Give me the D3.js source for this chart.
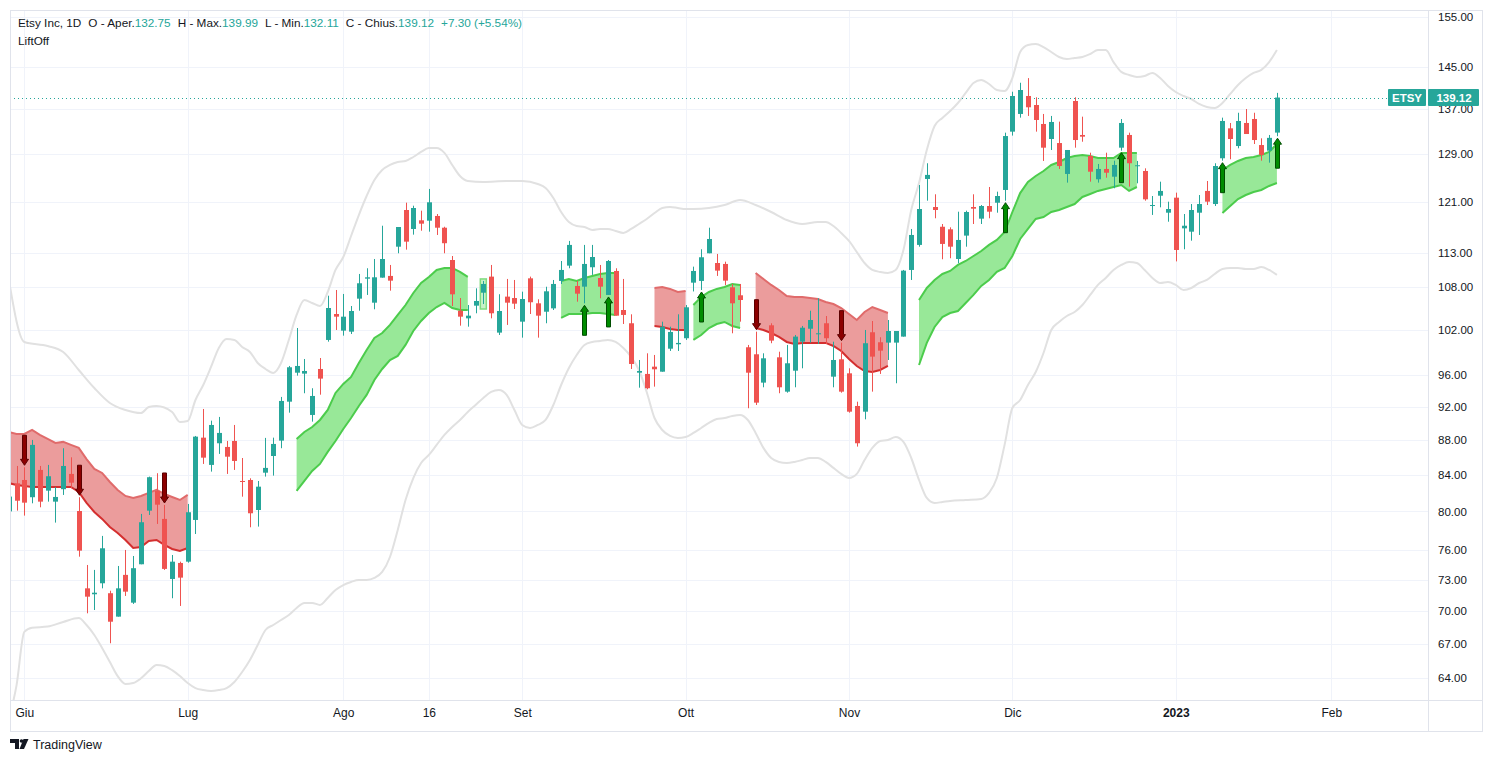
<!DOCTYPE html>
<html><head><meta charset="utf-8">
<script src="https://cdn.jsdelivr.net/npm/d3@7"></script>
<style>
html,body{margin:0;padding:0;background:#fff;}
svg{display:block;font-family:"Liberation Sans",Arial,sans-serif;}
</style></head><body>
<svg id="chart" width="1493" height="762"></svg>
<script>
// ---------- DATA ----------
const firstBar = -2; // bar index of first candle (0 = 1 Jun 2022)
const opens = [80.00,83.06,83.43,81.53,84.56,82.25,81.05,82.41,84.11,80.04,72.18,71.61,72.67,71.71,69.50,73.49,70.81,74.54,80.08,82.22,79.20,73.09,74.67,74.80,79.09,88.29,85.13,87.63,87.20,87.90,83.32,83.43,80.15,84.25,86.15,87.94,92.64,96.30,96.18,91.01,96.78,100.61,104.16,101.87,101.73,106.32,109.20,105.75,109.35,109.60,113.97,119.70,116.70,118.06,118.00,118.75,116.90,111.96,104.62,103.56,105.33,107.17,109.50,101.60,106.61,106.41,103.10,109.25,105.66,104.48,104.95,108.87,111.12,108.14,108.04,110.88,109.30,106.85,110.33,104.72,102.88,96.30,96.14,97.08,96.43,99.44,100.03,100.84,108.62,108.87,112.97,111.51,111.37,107.95,106.80,99.63,98.70,95.03,102.60,98.30,93.89,96.56,100.38,102.13,101.41,102.88,95.79,98.04,96.22,92.11,91.41,101.65,100.30,100.25,100.25,101.06,110.48,114.24,124.77,120.18,117.05,116.65,112.11,115.67,120.18,118.32,120.34,120.87,122.95,132.92,136.10,139.41,137.74,134.29,131.62,130.91,125.61,138.48,132.33,128.67,124.72,126.45,125.15,130.10,132.33,126.91,126.11,120.39,122.01,119.27,121.69,116.80,116.28,119.27,122.79,120.66,128.27,133.51,130.39,134.47,135.19,130.56,129.58,132.75];
const highs = [82.10,85.01,84.86,88.02,85.01,85.13,82.63,87.05,86.00,81.53,74.47,73.98,77.42,71.95,74.37,75.98,75.37,79.73,83.81,84.19,80.69,75.47,74.80,80.80,88.49,91.74,90.32,90.77,87.90,89.80,85.92,83.62,83.32,88.26,88.29,93.23,97.17,102.23,98.08,94.32,98.21,106.74,107.56,106.99,105.28,109.89,110.73,112.11,117.21,111.22,117.01,120.88,120.39,119.59,123.12,119.06,117.05,112.56,106.41,105.42,107.80,108.87,111.22,106.95,109.16,109.01,107.32,109.50,106.23,108.03,109.01,111.81,114.85,108.87,114.24,114.24,111.22,111.96,110.73,109.16,104.12,97.95,98.83,98.61,103.10,102.41,104.12,105.42,110.97,113.58,116.90,112.87,111.71,108.43,108.43,99.94,101.73,98.83,102.88,99.04,99.94,101.28,102.51,104.62,106.37,103.88,100.38,100.25,96.87,92.64,101.96,103.19,100.97,103.33,101.82,110.48,116.70,123.77,127.42,122.24,117.48,116.96,119.43,119.59,122.24,120.50,123.44,122.67,132.74,140.21,141.90,142.78,139.17,136.10,135.74,134.71,129.70,139.17,135.61,129.23,127.30,129.23,127.86,135.18,132.74,127.81,126.56,121.96,124.32,121.04,122.51,119.06,120.66,122.12,124.43,127.42,135.43,134.47,136.32,137.00,136.32,131.74,132.33,139.99];
const lows = [79.10,80.08,79.55,80.87,80.44,81.05,78.81,81.78,82.52,75.30,69.81,70.12,72.18,67.07,69.50,71.45,70.69,74.54,79.62,78.67,73.98,71.23,70.50,74.70,77.62,85.24,84.37,86.39,84.11,84.56,81.59,78.32,78.39,83.81,83.92,87.05,91.29,95.92,93.69,90.20,93.51,100.38,101.96,101.19,101.41,104.62,106.85,104.82,109.35,107.46,112.97,113.52,115.82,116.43,116.28,115.77,112.97,105.28,102.55,102.41,104.26,105.56,103.56,101.28,102.65,104.86,100.92,104.16,100.92,102.88,104.72,108.43,110.73,105.89,105.66,109.75,106.37,106.85,103.93,102.78,96.78,94.39,94.19,94.52,96.43,99.14,99.14,100.61,107.35,107.56,112.97,109.60,108.28,101.51,103.10,91.83,92.23,94.44,100.17,93.69,93.76,94.44,96.87,100.25,100.07,100.07,94.44,93.76,91.29,87.24,90.48,93.89,96.14,97.95,94.95,101.06,109.01,113.97,121.20,118.38,112.07,112.22,111.47,113.97,117.48,117.48,118.38,119.27,121.20,132.22,135.43,135.74,132.92,127.81,129.70,126.45,124.16,130.10,131.14,124.32,124.16,124.98,123.23,129.58,123.50,124.05,121.20,118.91,120.13,117.84,111.75,113.58,114.89,115.77,120.50,120.34,127.86,128.10,129.99,132.50,130.74,127.86,127.52,132.11];
const closes = [81.60,81.15,80.94,87.44,81.05,83.85,81.56,85.01,83.13,75.91,71.38,71.76,76.15,69.03,72.18,71.86,74.15,78.85,83.74,80.72,74.08,74.80,73.22,79.91,88.41,85.96,89.80,88.85,86.07,85.58,83.21,79.80,82.69,84.79,87.55,92.73,97.00,97.17,96.52,93.35,95.54,105.00,103.79,103.79,104.58,108.53,109.40,109.40,112.11,108.91,117.01,114.74,120.02,117.53,120.94,116.90,114.50,106.94,103.79,103.93,105.99,108.43,104.26,104.58,105.75,105.61,106.27,105.81,103.93,107.37,108.43,110.48,114.24,107.03,111.37,112.41,108.04,111.81,103.93,104.03,97.43,96.52,94.32,96.74,102.41,101.69,100.21,105.10,110.33,112.37,115.15,110.38,108.91,105.66,106.13,96.30,92.52,98.17,100.52,94.44,97.52,101.06,102.27,103.33,101.51,100.84,97.95,93.89,91.41,87.63,100.17,98.39,99.18,101.82,101.82,110.38,115.77,119.86,125.45,119.70,114.39,113.97,115.00,119.38,119.91,120.34,119.43,121.96,132.14,139.41,140.53,137.32,135.01,130.10,134.65,126.95,129.70,131.44,132.03,125.99,126.45,125.82,127.13,134.47,127.42,127.08,121.42,120.50,122.79,119.86,113.47,117.21,119.70,120.66,121.04,126.95,134.83,131.62,134.83,132.50,131.44,128.84,131.82,139.12];

// Bollinger-style envelope [bar, value]
const bbUpper = [[-2,109.16],[0,100.34],[3,99.80],[5,99.01],[7,96.65],[9,94.35],[11,92.48],[13,91.62],[15,91.25],[16,91.98],[17,92.11],[19,91.37],[20,90.16],[21,90.28],[22,92.85],[23,94.73],[24,97.04],[25,99.54],[26,100.74],[27,100.61],[28,99.67],[29,99.01],[30,97.56],[31,96.78],[32,96.27],[33,97.56],[34,100.61],[35,104.03],[36,106.13],[37,105.71],[38,105.28],[39,107.27],[40,110.48],[41,112.41],[42,115.61],[43,118.90],[44,121.96],[45,124.60],[46,126.28],[47,127.13],[48,127.64],[49,127.81],[50,128.49],[51,129.36],[52,130.04],[53,130.04],[54,129.19],[55,127.13],[56,125.27],[57,124.43],[59,124.27],[62,124.43],[64,124.43],[66,123.93],[67,123.28],[68,121.64],[69,119.38],[70,117.79],[71,117.16],[72,117.01],[73,116.54],[74,116.70],[75,116.70],[76,116.39],[77,116.08],[78,116.70],[79,117.48],[80,118.27],[81,119.22],[82,120.02],[83,120.18],[84,120.02],[85,119.86],[86,119.86],[88,120.02],[90,120.50],[92,121.31],[94,120.50],[96,119.38],[98,118.11],[100,117.48],[102,117.79],[103,117.79],[104,117.16],[105,116.08],[106,114.85],[107,113.17],[108,111.51],[109,110.48],[110,110.19],[111,110.04],[112,110.48],[113,113.47],[114,119.70],[115,124.10],[116,129.70],[117,133.93],[118,135.38],[119,136.63],[120,138.11],[121,139.98],[122,141.85],[123,142.43],[124,141.66],[125,140.53],[126,140.35],[127,142.81],[128,147.85],[129,149.25],[130,149.45],[131,148.84],[132,147.85],[133,146.87],[134,146.48],[135,146.68],[136,146.87],[137,147.46],[138,148.25],[139,148.25],[140,145.88],[141,143.97],[142,143.39],[143,143.01],[144,143.20],[145,143.78],[146,142.81],[147,141.28],[148,140.15],[149,139.41],[150,138.85],[151,137.93],[152,137.38],[153,137.20],[154,138.11],[155,139.79],[156,141.47],[157,142.81],[158,143.78],[159,144.37],[160,145.88],[161,148.25]];
const bbLower = [[-2,60.55],[-1,63.4],[0,68.1],[1,68.48],[3,68.58],[5,69.01],[7,69.37],[8,68.73],[9,67.82],[10,66.65],[11,65.41],[12,64.19],[13,63.52],[14,63.60],[15,64.0],[16,64.62],[17,65.15],[18,65.06],[19,64.7],[20,64.19],[21,63.60],[22,63.17],[23,63.0],[24,62.92],[25,63.0],[26,63.17],[27,63.69],[28,64.54],[29,65.59],[30,66.92],[31,68.27],[32,68.73],[33,69.19],[34,69.65],[35,70.31],[36,70.79],[37,70.79],[38,70.6],[39,71.26],[40,72.02],[41,72.5],[42,72.8],[43,72.99],[44,72.99],[45,73.19],[46,73.78],[47,75.27],[48,78.04],[49,81.23],[50,83.65],[51,85.35],[52,86.27],[53,87.44],[54,88.61],[55,89.56],[56,90.40],[57,91.37],[58,92.23],[59,93.10],[60,93.85],[61,94.10],[62,93.48],[63,91.62],[64,89.80],[65,89.44],[66,89.80],[67,90.40],[68,92.23],[69,94.73],[70,96.91],[71,98.61],[72,99.94],[73,100.34],[74,100.47],[75,100.61],[76,100.34],[77,99.54],[78,98.35],[79,96.65],[80,93.85],[81,90.64],[82,89.20],[83,88.49],[84,88.25],[85,88.37],[86,88.85],[87,89.44],[88,90.04],[89,90.52],[90,90.64],[91,90.89],[92,91.01],[93,90.40],[94,88.85],[95,87.09],[96,85.92],[97,85.47],[98,85.35],[99,85.47],[100,85.69],[101,85.92],[102,85.92],[103,85.47],[104,84.79],[105,84.11],[106,83.65],[107,84.11],[108,85.69],[109,87.09],[110,87.90],[111,88.02],[112,88.37],[113,87.78],[114,85.92],[115,83.43],[116,81.45],[117,80.91],[118,81.01],[119,81.12],[121,81.23],[123,81.34],[124,82.0],[125,83.65],[126,87.44],[127,91.86],[128,92.85],[129,94.73],[130,96.39],[131,98.87],[132,101.96],[133,103.06],[134,103.88],[135,104.44],[136,105.42],[137,106.85],[138,108.29],[139,109.30],[140,110.48],[141,111.22],[142,111.66],[143,111.51],[144,110.48],[145,109.30],[146,108.57],[147,108.72],[148,108.29],[149,107.56],[150,107.85],[151,108.57],[152,109.01],[153,109.89],[154,110.63],[155,110.78],[156,110.78],[157,110.63],[158,110.63],[159,110.92],[160,110.48],[161,109.75]];

// LiftOff band segments (upper / lower per bar)
const red1Start = -2;
const red1Upper = [88.96,88.73,88.73,89.20,88.61,88.14,87.67,87.79,87.44,87.09,85.80,84.67,84.22,83.21,82.33,81.67,81.45,81.67,82.0,82.33,81.89,81.56,81.23,81.78];
const red1Lower = [83.09,82.88,82.77,82.66,82.66,82.66,82.66,82.66,82.66,82.11,80.91,79.94,79.20,78.35,77.73,77.00,76.18,76.28,76.90,77.00,76.49,76.08,75.88,76.18];
const green1Start = 35;
const green1Upper = [88.14,88.96,89.56,90.40,91.62,93.73,94.86,95.76,97.56,99.27,100.88,101.55,102.65,104.03,105.42,107.13,108.57,109.45,110.48,110.78,110.78,110.19,109.45];
const green1Lower = [82.22,83.32,84.45,85.24,86.62,87.90,89.32,90.64,92.11,93.48,95.37,96.78,97.95,98.48,99.94,101.82,103.19,104.30,105.14,105.71,105.00,104.72,104.72];
const green1bStart = 59;
const green1bUpper = [109.16];
const green1bLower = [104.86];
const green2Start = 69;
const green2Upper = [108.87,109.16,108.87,109.30,109.60,109.89,110.04,110.04];
const green2Lower = [103.61,104.16,104.16,104.16,104.30,104.30,104.16,104.03];
const red2Start = 81;
const red2Upper = [107.85,108.00,107.71,107.27,107.42];
const red2Lower = [102.51,102.37,102.10,101.96,101.96];
const green3Start = 86;
const green3Upper = [105.42,106.55,107.27,107.71,108.00,108.43,108.29];
const green3Lower = [100.61,101.28,102.23,102.78,103.06,102.51,102.23];
const red3Start = 94;
const red3Upper = [110.04,109.16,108.29,107.56,106.69,106.55,106.55,106.41,106.27,105.85,105.56,105.00,104.16,103.33,104.44,105.14,104.72,104.30];
const red3Lower = [102.23,101.96,101.55,101.01,100.34,100.07,100.21,100.21,100.21,100.21,99.80,99.14,98.08,97.17,96.52,96.39,96.65,97.17];
const green4Start = 115;
const green4Upper = [106.13,107.85,109.01,109.89,110.33,111.22,111.81,112.56,113.32,114.24,115.00,116.23,119.38,122.44,124.27,125.27,126.11,127.13,127.64,128.32,128.67,128.84,128.67,128.32,128.32,128.32,129.19,129.19,129.19];
const green4Lower = [97.30,100.21,102.37,103.74,104.30,104.58,105.71,106.85,108.14,109.01,110.19,110.78,112.56,115.15,116.70,118.27,118.58,119.38,119.70,120.18,120.66,121.80,122.28,122.79,123.12,123.44,123.77,122.79,123.44];
const green5Start = 154;
const green5Upper = [126.28,127.13,127.81,128.32,128.49,128.84,129.36,130.74];
const green5Lower = [119.22,120.34,121.47,122.12,122.62,122.95,123.61,124.10];

const arrowsDown = [0, 7, 18, 94, 105];
const arrowsUp = [72, 75, 87, 126, 141, 154, 161];

const priceTicks = [155,145,137,129,121,113,108,102,96,92,88,84,80,76,73,70,67,64];
const timeTickBars = [0,21,41,52,64,85,106,127,148,168];
const timeTickLabels = ["Giu","Lug","Ago","16","Set","Ott","Nov","Dic","2023","Feb"];
const lastPrice = 139.12;
const headerParts = [
  ["Etsy Inc, 1D","t",0],["O - Aper.","t",7],["132.75","v",0],["H - Max.","t",7],["139.99","v",0],
  ["L - Min.","t",7],["132.11","v",0],["C - Chius.","t",7],["139.12","v",0],["+7.30 (+5.54%)","v",7]
];

// ---------- CHART ----------
const svg = d3.select("#chart");
const P = {l:10, t:10, r:1428, b:700, axisB:731, outerR:1482};
const x = d3.scaleLinear().domain([0,161]).range([24.3,1276.9]);
const y = d3.scaleLog().domain([155,64]).range([16.7,678.3]);

const UP = "#26a69a", DOWN = "#ef5350", GRID = "#f0f3fa", BORDER = "#e0e3eb", TXT = "#131722";

svg.append("rect").attr("width",1493).attr("height",762).attr("fill","#fff");
svg.append("defs").append("clipPath").attr("id","clip")
  .append("rect").attr("x",P.l).attr("y",P.t).attr("width",P.r-P.l).attr("height",P.b-P.t);

// grid
const grid = svg.append("g");
grid.selectAll("line.h").data(priceTicks).join("line")
  .attr("x1",P.l).attr("x2",P.r).attr("y1",d=>Math.round(y(d))+0.5).attr("y2",d=>Math.round(y(d))+0.5)
  .attr("stroke",GRID).attr("stroke-width",1);
grid.selectAll("line.v").data(timeTickBars).join("line")
  .attr("y1",P.t).attr("y2",P.b).attr("x1",d=>Math.round(x(d))+0.5).attr("x2",d=>Math.round(x(d))+0.5)
  .attr("stroke",GRID).attr("stroke-width",1);

const plot = svg.append("g").attr("clip-path","url(#clip)");

// envelope
const bbLine = d3.line().x(d=>x(d[0])).y(d=>y(d[1])).curve(d3.curveMonotoneX);
[bbUpper,bbLower].forEach(arr=>{
  plot.append("path").attr("d",bbLine(arr)).attr("fill","none")
    .attr("stroke","#e1e1e1").attr("stroke-width",2);
});

// bands
const segments = [
  {start:red1Start, up:red1Upper, lo:red1Lower, kind:"red"},
  {start:green1Start, up:green1Upper, lo:green1Lower, kind:"green"},
  {start:green2Start, up:green2Upper, lo:green2Lower, kind:"green"},
  {start:red2Start, up:red2Upper, lo:red2Lower, kind:"red"},
  {start:green3Start, up:green3Upper, lo:green3Lower, kind:"green"},
  {start:red3Start, up:red3Upper, lo:red3Lower, kind:"red"},
  {start:green4Start, up:green4Upper, lo:green4Lower, kind:"green"},
  {start:green5Start, up:green5Upper, lo:green5Lower, kind:"green"}
];
segments.forEach(s=>{
  const pts = s.up.map((u,i)=>({b:s.start+i,u:u,l:s.lo[i]}));
  const area = d3.area().x(d=>x(d.b)).y0(d=>y(d.l)).y1(d=>y(d.u));
  const lineU = d3.line().x(d=>x(d.b)).y(d=>y(d.u));
  const lineL = d3.line().x(d=>x(d.b)).y(d=>y(d.l));
  const fill = s.kind==="red" ? "#eb9c9c" : "#98e898";
  plot.append("path").attr("d",area(pts)).attr("fill",fill);
  plot.append("path").attr("d",lineU(pts)).attr("fill","none")
    .attr("stroke", s.kind==="red" ? "#e06b6b" : "#4ccc4c").attr("stroke-width",2);
  plot.append("path").attr("d",lineL(pts)).attr("fill","none")
    .attr("stroke", s.kind==="red" ? "#d42f2f" : "#4ccc4c").attr("stroke-width",2);
});
// single-bar band
green1bUpper.forEach((u,i)=>{
  const b = green1bStart+i;
  plot.append("rect").attr("x",x(b)-3).attr("y",y(u)).attr("width",6).attr("height",y(green1bLower[i])-y(u))
    .attr("fill","#c8f2c8").attr("stroke","#7fdc7f").attr("stroke-width",1.5);
});

// last price dotted line
plot.append("line").attr("x1",P.l).attr("x2",1388).attr("y1",Math.round(y(lastPrice))+0.5).attr("y2",Math.round(y(lastPrice))+0.5)
  .attr("stroke",UP).attr("stroke-width",1).attr("stroke-dasharray","1,3");

// candles
const candles = opens.map((o,i)=>({b:firstBar+i,o:o,h:highs[i],l:lows[i],c:closes[i]}));
const cg = plot.append("g");
cg.selectAll("line").data(candles).join("line")
  .attr("x1",d=>Math.round(x(d.b))+0.5).attr("x2",d=>Math.round(x(d.b))+0.5)
  .attr("y1",d=>y(d.h)).attr("y2",d=>y(d.l))
  .attr("stroke",d=>d.c>=d.o?UP:DOWN).attr("stroke-width",1);
cg.selectAll("rect").data(candles).join("rect")
  .attr("x",d=>Math.round(x(d.b))-2).attr("width",5)
  .attr("y",d=>y(Math.max(d.o,d.c)))
  .attr("height",d=>Math.max(1,y(Math.min(d.o,d.c))-y(Math.max(d.o,d.c))))
  .attr("fill",d=>d.c>=d.o?UP:DOWN);

// arrows
function arrowPath(cx,tip,s){ // s=+1: tail above tip (down arrow), s=-1: tail below (up arrow)
  const hh=6, hw=4, sw=2, len=30;
  return `M${cx},${tip} L${cx+hw},${tip-s*hh} L${cx+sw},${tip-s*hh} L${cx+sw},${tip-s*len} L${cx-sw},${tip-s*len} L${cx-sw},${tip-s*hh} L${cx-hw},${tip-s*hh} Z`;
}
const byBar = new Map(candles.map(d=>[d.b,d]));
arrowsDown.forEach(b=>{
  const d = byBar.get(b);
  plot.append("path").attr("d",arrowPath(Math.round(x(b))+0.5, y(d.h)-2, 1))
    .attr("fill","#8b0000").attr("stroke","#5c0000").attr("stroke-width",1);
});
arrowsUp.forEach(b=>{
  const d = byBar.get(b);
  plot.append("path").attr("d",arrowPath(Math.round(x(b))+0.5, y(d.l)+2, -1))
    .attr("fill","#008c00").attr("stroke","#004d00").attr("stroke-width",1);
});

// borders
const bd = svg.append("g").attr("stroke",BORDER).attr("stroke-width",1).attr("fill","none");
bd.append("rect").attr("x",P.l+0.5).attr("y",P.t+0.5).attr("width",P.outerR-P.l).attr("height",P.axisB-P.t);
bd.append("line").attr("x1",P.l).attr("x2",P.outerR).attr("y1",P.b+0.5).attr("y2",P.b+0.5);
bd.append("line").attr("x1",P.r+0.5).attr("x2",P.r+0.5).attr("y1",P.t).attr("y2",P.axisB);

// price axis
const yAxis = d3.axisRight(y).tickValues(priceTicks).tickFormat(d3.format(".2f")).tickSize(0).tickPadding(10);
const ya = svg.append("g").attr("transform",`translate(${P.r},0)`).call(yAxis);
ya.select(".domain").remove();
ya.selectAll("text").attr("fill",TXT).attr("font-size","11.5px").attr("font-family","Liberation Sans, Arial, sans-serif");

// time axis
const xAxis = d3.axisBottom(x).tickValues(timeTickBars).tickFormat((d,i)=>timeTickLabels[i]).tickSize(0).tickPadding(8);
const xa = svg.append("g").attr("transform",`translate(0,${P.b})`).call(xAxis);
xa.select(".domain").remove();
xa.selectAll("text").attr("fill",TXT).attr("font-size","12px").attr("font-family","Liberation Sans, Arial, sans-serif")
  .attr("font-weight",(d,i)=>timeTickLabels[i]==="2023"?"bold":"normal");

// last price labels
const ly = y(lastPrice);
svg.append("rect").attr("x",1388).attr("y",ly-8.5).attr("width",38).attr("height",17).attr("fill",UP).attr("rx",1);
svg.append("text").attr("x",1407).attr("y",ly+4).attr("text-anchor","middle").attr("fill","#fff")
  .attr("font-size","11.5px").attr("font-weight","bold").text("ETSY");
svg.append("rect").attr("x",1428).attr("y",ly-8.5).attr("width",51).attr("height",17).attr("fill",UP).attr("rx",1);
svg.append("text").attr("x",1454).attr("y",ly+4).attr("text-anchor","middle").attr("fill","#fff")
  .attr("font-size","11.5px").attr("font-weight","bold").text(lastPrice.toFixed(2));

// header (legend)
const hdr = svg.append("text").attr("x",18).attr("y",27).attr("font-size","11.75px").attr("fill",TXT);
headerParts.forEach((p,i)=>{
  const t = hdr.append("tspan").attr("fill",p[1]==="v"?UP:TXT).text(p[0]);
  if(i>0) t.attr("dx",p[2]);
});
svg.append("text").attr("x",18).attr("y",45).attr("font-size","11.75px").attr("fill",TXT).text("LiftOff");

// TradingView footer
const logo = svg.append("g").attr("fill",TXT);
logo.append("path").attr("d","M10,739 h9 v10 h-4 v-6 h-5 Z");
logo.append("circle").attr("cx",21.5).attr("cy",741).attr("r",1.8);
logo.append("path").attr("d","M23.5,739 h5 l-4.5,10 h-4.5 Z");
svg.append("text").attr("x",33).attr("y",749).attr("font-size","12.5px").attr("fill",TXT).text("TradingView");
</script>
</body></html>
